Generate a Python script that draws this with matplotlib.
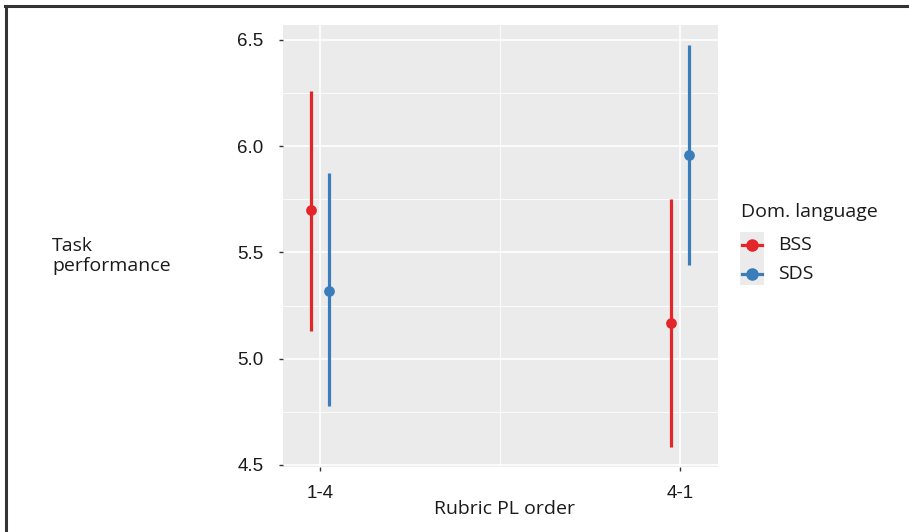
import matplotlib
matplotlib.use("Agg")
import matplotlib.pyplot as plt
from matplotlib.lines import Line2D
from matplotlib.patches import Rectangle

# data
orders = ["1-4", "4-1"]
groups = ["BSS", "SDS"]
colors = {"BSS": "#E3262A", "SDS": "#3A7DBA"}
means = {"BSS": [5.70, 5.17], "SDS": [5.32, 5.96]}
lower = {"BSS": [5.13, 4.585], "SDS": [4.775, 5.44]}
upper = {"BSS": [6.26, 5.75], "SDS": [5.875, 6.475]}
dodge = {"BSS": -0.025, "SDS": 0.025}

W, H = 909, 532


def fx(px):
    return px / W


def fy(py):
    return 1 - py / H


fig = plt.figure(figsize=(W / 100, H / 100), dpi=100)
ax = fig.add_axes([fx(283), fy(467), 435 / W, 442 / H])
ax.set_facecolor("#EBEBEB")

for g in groups:
    xs = [i + 1 + dodge[g] for i in range(len(orders))]
    ax.vlines(xs, lower[g], upper[g], color=colors[g], lw=2.3, zorder=3)
    ax.scatter(xs, means[g], s=60, color=colors[g], zorder=4, linewidths=0)

ax.set_xlim(0.897, 2.105)
ax.set_ylim(4.49, 6.57)
ax.set_xticks([1, 2])
ax.set_xticklabels(orders)
ax.set_xticks([1.5], minor=True)
ax.set_yticks([4.5, 5.0, 5.5, 6.0, 6.5])
ax.set_yticklabels(["4.5", "5.0", "5.5", "6.0", "6.5"])
ax.set_yticks([4.75, 5.25, 5.75, 6.25], minor=True)
ax.grid(which="major", color="white", lw=1.2, zorder=0)
ax.grid(which="minor", color="white", lw=0.6, zorder=0)
ax.set_axisbelow(True)
for s in ax.spines.values():
    s.set_visible(False)
ax.tick_params(which="major", length=3, width=1, color="#333333",
               labelsize=13.5, labelcolor="#1a1a1a")
ax.tick_params(which="minor", length=0)
ax.tick_params(axis="y", pad=11)
ax.tick_params(axis="x", pad=10)
for lab in ax.get_xticklabels() + ax.get_yticklabels():
    lab.set_family("Liberation Sans")

fig.text(fx(505), fy(509), "Rubric PL order", ha="center", va="center",
         fontsize=14, family="Open Sans", color="#1a1a1a")
fig.text(fx(52), fy(256), "Task\nperformance", ha="left", va="center",
         fontsize=14, family="Open Sans", color="#1a1a1a", linespacing=1.2)

# legend, drawn by hand to sit where the reference has it
fig.text(fx(741), fy(212), "Dom. language", ha="left", va="center",
         fontsize=14, family="Open Sans", color="#1a1a1a")
fig.add_artist(Rectangle((fx(740), fy(285)), 24 / W, 53 / H,
                         transform=fig.transFigure, facecolor="#EBEBEB",
                         edgecolor="none"))
for g, ky in zip(groups, [245, 274]):
    fig.add_artist(Line2D([fx(742), fx(762)], [fy(ky), fy(ky)],
                          transform=fig.transFigure, color=colors[g], lw=2.3))
    fig.add_artist(Line2D([fx(752)], [fy(ky)], transform=fig.transFigure,
                          color=colors[g], marker="o", markersize=8, lw=0))
    fig.text(fx(778), fy(ky), g, ha="left", va="center", fontsize=14,
             family="Open Sans", color="#1a1a1a")

# black frame at top and left
fig.add_artist(Line2D([fx(5), 1], [fy(5.5), fy(5.5)],
                      transform=fig.transFigure, color="#333333", lw=2.2))
fig.add_artist(Line2D([fx(5.5), fx(5.5)], [0, fy(5.5)],
                      transform=fig.transFigure, color="#333333", lw=2.2))

fig.savefig("out.png", dpi=100)
